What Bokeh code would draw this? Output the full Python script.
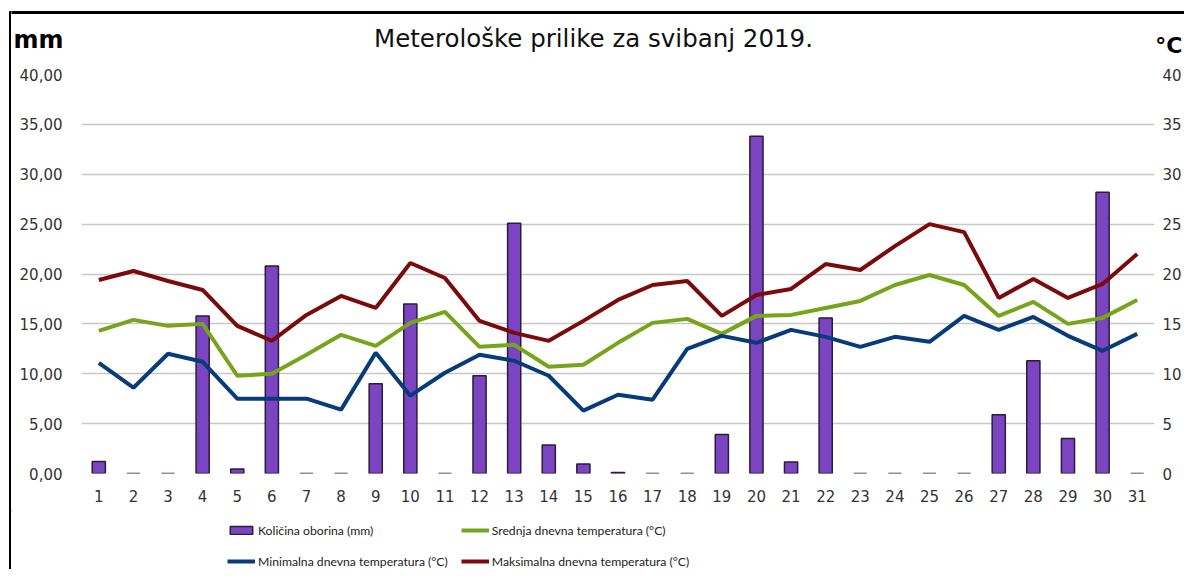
from bokeh.plotting import figure
from bokeh.models import Range1d, LinearAxis, FixedTicker, Legend, LegendItem
from bokeh.layouts import row, column
from bokeh.core.properties import value
from bokeh.embed import file_html
from bokeh.resources import INLINE

days = list(range(1, 32))
oborina = [1.2, 0, 0, 15.8, 0.45, 20.8, 0, 0, 9.0, 17.0, 0, 9.8, 25.1, 2.85, 0.95, 0.1,
           0, 0, 3.9, 33.8, 1.15, 15.6, 0, 0, 0, 0, 5.9, 11.3, 3.5, 28.2, 0]
srednja = [14.3, 15.4, 14.8, 15.0, 9.8, 10.0, 11.9, 13.9, 12.8, 15.1, 16.2, 12.7, 12.9,
           10.7, 10.9, 13.1, 15.1, 15.5, 14.0, 15.8, 15.9, 16.6, 17.3, 18.9, 19.9, 18.9,
           15.8, 17.2, 15.0, 15.6, 17.4]
minimalna = [11.1, 8.6, 12.0, 11.2, 7.5, 7.5, 7.5, 6.4, 12.1, 7.8, 10.1, 11.9, 11.3,
             9.8, 6.3, 7.9, 7.4, 12.5, 13.8, 13.1, 14.4, 13.7, 12.7, 13.7, 13.2, 15.8,
             14.4, 15.7, 13.8, 12.3, 14.0]
maksimalna = [19.4, 20.3, 19.3, 18.4, 14.8, 13.3, 15.9, 17.8, 16.6, 21.1, 19.6, 15.3,
              14.1, 13.3, 15.3, 17.4, 18.9, 19.3, 15.8, 17.9, 18.5, 21.0, 20.4, 22.8,
              25.0, 24.2, 17.6, 19.5, 17.6, 19.0, 22.0]
y_ticks = [0, 5, 10, 15, 20, 25, 30, 35, 40]
title_text = "Meterološke prilike za svibanj 2019."
unit_left = "mm"
unit_right = "°C"
legend_labels = ["Količina oborina (mm)", "Srednja dnevna temperatura (°C)",
                 "Minimalna dnevna temperatura (°C)", "Maksimalna dnevna temperatura (°C)"]

FONT = "DejaVu Sans"
LEG_FONT = "Lato"
TOTAL_W, TOTAL_H = 1184, 569
STRIP_W = 11
COL_W = TOTAL_W - STRIP_W
HEAD_H = 60
LEG_H = 59
MAIN_H = TOTAL_H - HEAD_H - LEG_H
FL, FT, FR, FB = 81, 74, 1157, 473   # frame edges in page pixels

BAR_FILL, BAR_LINE = "#7b45c1", "#2b1c3c"
C_SR, C_MIN, C_MAX = "#76a51c", "#073b7a", "#7b0a0a"


def blank(w, h, x0, x1, y0, y1):
    f = figure(width=w, height=h, output_backend="svg", toolbar_location=None,
               x_range=Range1d(x0, x1), y_range=Range1d(y1, y0),
               x_axis_location=None, y_axis_location=None, min_border=0)
    f.frame_align = False
    f.grid.visible = False
    f.outline_line_color = None
    f.background_fill_color = "white"
    f.border_fill_color = "white"
    return f

# left strip holding the chart frame's left edge
strip = blank(STRIP_W, TOTAL_H, 0, STRIP_W, 0, TOTAL_H)
strip.quad(left=[9], right=[11], top=[11], bottom=[TOTAL_H], color="black")

# header: title and unit labels
head = blank(COL_W, HEAD_H, STRIP_W, TOTAL_W, 0, HEAD_H)
head.quad(left=[STRIP_W - 2], right=[TOTAL_W], top=[11], bottom=[13], color="black")
head.text(x=[593], y=[38], text=[title_text], text_font=value(FONT),
          text_font_size="24.5px", text_color="#111111", text_align="center",
          text_baseline="middle")
head.text(x=[13], y=[39], text=[unit_left], text_font=value(FONT), text_font_size="24px",
          text_font_style="bold", text_color="#000000", text_baseline="middle")
head.text(x=[1182], y=[45], text=[unit_right], text_font=value(FONT), text_font_size="22px",
          text_font_style="bold", text_color="#000000", text_baseline="middle",
          text_align="right")

# main chart
p = figure(width=COL_W, height=MAIN_H, output_backend="svg", toolbar_location=None,
           x_range=Range1d(0.5, 31.5), y_range=Range1d(0, 40),
           min_border_left=FL - STRIP_W, min_border_right=TOTAL_W - FR,
           min_border_top=FT - HEAD_H, min_border_bottom=HEAD_H + MAIN_H - FB)
p.frame_align = False
p.outline_line_color = None
p.background_fill_color = "white"
p.border_fill_color = "white"
p.extra_y_ranges = {"temp": Range1d(0, 40)}

p.xaxis.ticker = FixedTicker(ticks=days)
p.xaxis.major_label_overrides = {d: str(d) for d in days}
p.yaxis.ticker = FixedTicker(ticks=y_ticks)
p.yaxis.major_label_overrides = {t: f"{t:.2f}".replace(".", ",") for t in y_ticks}
right = LinearAxis(y_range_name="temp", ticker=FixedTicker(ticks=y_ticks))
right.major_label_overrides = {t: str(t) for t in y_ticks}
p.add_layout(right, "right")

for ax in [p.xaxis[0], p.yaxis[0], right]:
    ax.axis_line_color = None
    ax.major_tick_line_color = None
    ax.minor_tick_line_color = None
    ax.major_label_text_font = FONT
    ax.major_label_text_font_size = "15px"
    ax.major_label_text_color = "#333333"
p.xaxis.major_label_standoff = 10
p.yaxis[0].major_label_standoff = 13
right.major_label_standoff = 2

p.xgrid.grid_line_color = None
p.ygrid.ticker = FixedTicker(ticks=y_ticks)
p.ygrid.grid_line_color = "#c8c8c8"
p.ygrid.grid_line_width = 1.5

p.vbar(x=days, top=oborina, width=0.38, fill_color=BAR_FILL, line_color=BAR_LINE,
       line_width=1.5)
p.line(days, srednja, line_color=C_SR, line_width=4, y_range_name="temp")
p.line(days, minimalna, line_color=C_MIN, line_width=4, y_range_name="temp")
p.line(days, maksimalna, line_color=C_MAX, line_width=4, y_range_name="temp")

# legend strip (legend renderers hold one point far outside the visible range)
leg = blank(COL_W, LEG_H, STRIP_W, TOTAL_W, TOTAL_H - LEG_H, TOTAL_H)
far = [-1e6]
r_bar = leg.vbar(x=far, top=far, width=1, fill_color=BAR_FILL, line_color=BAR_LINE,
                 line_width=1.5)
r_sr = leg.line(x=far, y=far, line_color=C_SR, line_width=4)
r_min = leg.line(x=far, y=far, line_color=C_MIN, line_width=4)
r_max = leg.line(x=far, y=far, line_color=C_MAX, line_width=4)
legend = Legend(items=[LegendItem(label=legend_labels[0], renderers=[r_bar]),
                       LegendItem(label=legend_labels[1], renderers=[r_sr]),
                       LegendItem(label=legend_labels[2], renderers=[r_min]),
                       LegendItem(label=legend_labels[3], renderers=[r_max])],
                location=(227 - STRIP_W, -1), ncols=2, orientation="horizontal")
legend.padding = 0
legend.margin = 0
legend.spacing = 13
legend.border_line_color = None
legend.background_fill_alpha = 0
legend.glyph_width = 28
legend.glyph_height = 10
legend.label_height = 18
legend.label_width = 189
legend.label_standoff = 3
legend.label_text_font = LEG_FONT
legend.label_text_font_size = "12.2px"
legend.label_text_color = "#222222"
legend.label_text_baseline = "middle"
leg.add_layout(legend, "center")

layout = row(strip, column(head, p, leg, spacing=0), spacing=0)
open("out.html", "w").write(file_html(layout, INLINE))
